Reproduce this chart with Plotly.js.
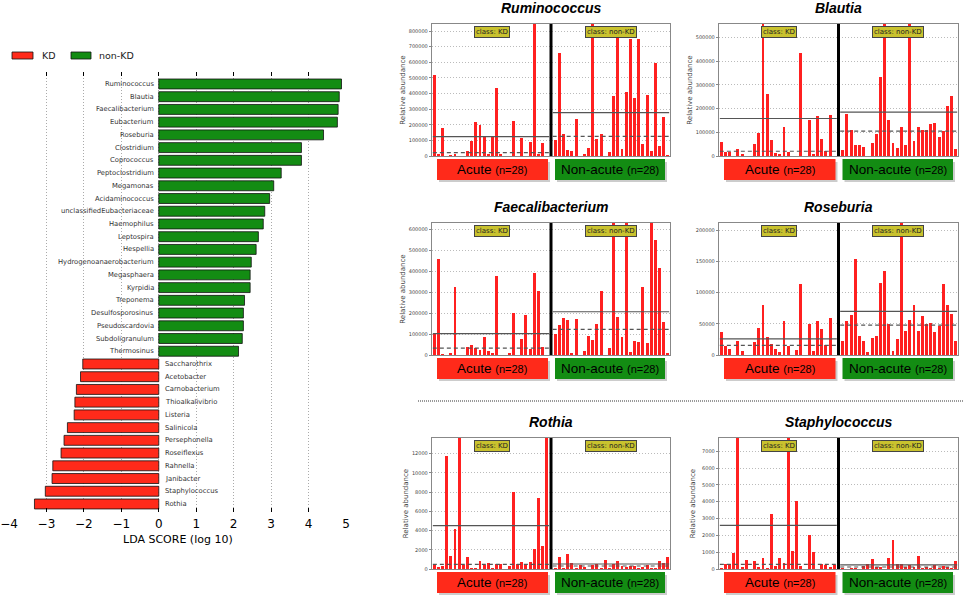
<!DOCTYPE html>
<html>
<head>
<meta charset="utf-8">
<script src="https://cdn.plot.ly/plotly-3.0.1.min.js"></script>
<style>html,body{margin:0;padding:0;background:#fff}#chart{width:964px;height:604px}</style>
</head>
<body>
<div id="chart"></div>
<script>
"use strict"

// LEfSe LDA scores, top to bottom
const ldaTaxa = ["Ruminococcus","Blautia","Faecalibacterium","Eubacterium","Roseburia","Clostridium","Coprococcus",
  "Peptoclostridium","Megamonas","Acidaminococcus","unclassifiedEubacteriaceae","Haemophilus","Leptospira","Hespellia",
  "Hydrogenoanaerobacterium","Megasphaera","Kyrpidia","Treponema","Desulfosporosinus","Pseudoscardovia","Subdoligranulum",
  "Thermosinus","Saccharothrix","Acetobacter","Carnobacterium","Thioalkalivibrio","Listeria","Salinicola","Persephonella",
  "Roseiflexus","Rahnella","Janibacter","Staphylococcus","Rothia"]
const ldaScore = [4.88,4.82,4.79,4.77,4.40,3.81,3.81,3.27,3.07,2.96,2.83,2.79,2.66,2.60,2.47,2.44,2.44,2.29,2.26,2.26,2.23,2.13,
  -2.03,-2.09,-2.20,-2.24,-2.26,-2.44,-2.53,-2.61,-2.83,-2.85,-3.03,-3.32]
const ldaTicks = [-4,-3,-2,-1,0,1,2,3,4,5]

// relative abundance per sample (28 KD / 28 non-KD)
const panelTaxa = ["Ruminococcus","Blautia","Faecalibacterium","Roseburia","Rothia","Staphylococcus"]
const ruminoKD = [520000,13000,180000,0,5000,15000,0,0,30000,97000,215000,200000,120000,15000,120000,437000,10000,0,0,225000,0,115000,0,88000,900000,10000,85000,0]
const ruminoNon = [100000,660000,143000,38000,32000,240000,0,10000,53000,900000,110000,140000,3000,23000,383000,770000,47000,408000,750000,370000,750000,75000,390000,34000,595000,64000,250000,6000]
const blautiaKD = [58000,18000,18000,0,28000,8000,0,0,50000,98000,600000,262000,66000,13000,10000,124000,15000,0,0,435000,0,152000,10000,168000,71000,20000,174000,0]
const blautiaNon = [25000,178000,110000,48000,48000,40000,0,55000,93000,333000,600000,153000,54000,32000,123000,45000,600000,65000,121000,109000,109000,136000,138000,78000,107000,210000,253000,30000]
const faecaliKD = [105000,460000,5000,0,8000,325000,0,0,40000,46000,35000,25000,88000,20000,8000,377000,0,0,8000,202000,0,75000,190000,30000,395000,305000,38000,0]
const faecaliNon = [100000,143000,175000,169000,8000,172000,0,18000,91000,73000,148000,308000,0,33000,700000,180000,85000,700000,16000,65000,62000,327000,57000,700000,553000,418000,158000,10000]
const roseKD = [37500,15000,9100,0,22000,7000,0,0,20400,44000,81000,29000,17000,10000,5000,55000,15000,0,8000,114000,0,49000,7000,54000,41000,16000,59500,0]
const roseNon = [23000,54000,64000,154000,31000,22000,5000,28000,30000,115000,135000,49000,7000,25000,230000,38000,56000,80000,39000,63000,49000,51000,37000,47000,114000,80000,66000,23000]
const rothiaKD = [400,200,350,11800,1400,4200,14000,400,1300,100,100,850,450,600,150,550,550,0,300,8050,500,750,450,700,2050,7400,2350,14000]
const rothiaNon = [150,1250,150,1550,650,100,400,200,50,450,500,80,950,100,550,850,300,200,300,300,100,250,400,150,100,850,650,1300]
const staphKD = [60,270,270,950,7800,100,520,0,480,100,680,80,3250,200,640,360,7800,1080,4020,200,0,2030,1000,20,280,220,120,250]
const staphNon = [50,30,60,80,0,150,300,580,130,120,0,680,1700,300,300,100,250,120,750,60,100,40,220,80,200,100,80,470]

const kdMean = [124000,158000,102000,26000,4520,2600]
const kdMedian = [21000,20000,33000,15500,480,280]
const nonMean = [278000,185000,207000,70000,520,240]
const nonMedian = [126000,105000,123000,48000,310,120]
const yMax = [845000,556000,632000,211800,13620,7790]
const yStep = [100000,100000,100000,50000,2000,1000]

const panelKD = [ruminoKD, blautiaKD, faecaliKD, roseKD, rothiaKD, staphKD]
const panelNon = [ruminoNon, blautiaNon, faecaliNon, roseNon, rothiaNon, staphNon]

const W = 964, H = 604
const px = v => v/W
const py = v => 1 - v/H
const RED = "#ff2a1a", GREEN = "#138c13", BARRED = "#ff2020"
const DV = "DejaVu Sans, sans-serif"
const AR = "Liberation Sans, Arial, sans-serif"
const DOTS = "1px,2px"

const data = []
const shapes = []
const annotations = []
const layout = {
  width: W, height: H,
  margin: {l:0, r:0, t:0, b:0},
  paper_bgcolor: "#fff", plot_bgcolor: "#fff",
  showlegend: false,
  bargap: 0,
  shapes: shapes,
  annotations: annotations,
}
// paper-anchored text, always centred on its point unless told otherwise
const note = (x, y, text, font, extra) => annotations.push(Object.assign({
  xref:"paper", yref:"paper", x:px(x), y:py(y), text:text, showarrow:false,
  xanchor:"center", yanchor:"middle", font:font,
}, extra || {}))

// ---- left: LDA bars ----
const pos = ldaScore.map(v=>v>0)
data.push({
  type: "bar", orientation: "h",
  y: ldaTaxa.filter((v,i)=>pos[i]), x: ldaScore.filter((v,i)=>pos[i]),
  marker: {color: GREEN, line: {color: "#111", width: 0.8}},
  width: 0.78, name: "non-KD", hoverinfo: "skip",
})
data.push({
  type: "bar", orientation: "h",
  y: ldaTaxa.filter((v,i)=>!pos[i]), x: ldaScore.filter((v,i)=>!pos[i]),
  marker: {color: RED, line: {color: "#111", width: 0.8}},
  width: 0.78, name: "KD", hoverinfo: "skip",
})
layout.xaxis = {
  domain: [px(9), px(346)], range: [-4, 5], anchor: "y",
  tickvals: ldaTicks, ticktext: ldaTicks.map(v=>v<0 ? "\u2212"+(-v) : String(v)),
  tickfont: {family: DV, size: 12, color: "#000"}, ticklabelstandoff: 3,
  ticks: "inside", ticklen: 4, tickcolor: "#000", mirror: "ticks",
  showgrid: true, gridcolor: "#aaa", griddash: DOTS, gridwidth: 1,
  zeroline: false, showline: false, fixedrange: true,
}
layout.yaxis = {
  domain: [py(512), py(72)], anchor: "x",
  type: "category", categoryorder: "array", categoryarray: ldaTaxa,
  range: [33.63, -0.94], showticklabels: false, showgrid: false,
  zeroline: false, showline: false, fixedrange: true,
}
ldaTaxa.forEach((name,i)=>{
  annotations.push({
    xref: "x", yref: "y", x: 0, y: name, text: name, showarrow: false,
    xanchor: ldaScore[i]>0 ? "right" : "left", yanchor: "middle", xshift: ldaScore[i]>0 ? -3 : 4,
    font: {family: DV, size: 6.8, color: "#333"},
  })
})
note(177.5, 539, "LDA SCORE (log 10)", {family: DV, size: 11, color: "#000"})
// legend
;[[12,33,RED,40,"KD"],[71,91,GREEN,97,"non-KD"]].forEach(([a,b,col,tx,label])=>{
  shapes.push({type:"rect", xref:"paper", yref:"paper", x0:px(a), x1:px(b), y0:py(59), y1:py(52),
    fillcolor: col, line:{color:"#111", width:0.8}})
  note(tx, 55.5, label, {family:DV, size:9.5, color:"#222"}, {xanchor:"left"})
})

// ---- right: abundance panels ----
const cols = [[432,670],[719,958]]
const rows = [[24,156],[223,355],[438,569]]
const kdIdx = ruminoKD.map((v,i)=>i)
const nonIdx = ruminoKD.map((v,i)=>i+29)

panelTaxa.forEach((taxon,i)=>{
  const n = i+2
  const [L,R] = cols[i%2]
  const [T,B] = rows[Math.floor(i/2)]
  const xa = "x"+n, ya = "y"+n
  const divPx = L + (R-L)*28.5/57

  data.push({type:"bar", x:kdIdx, y:panelKD[i], xaxis:xa, yaxis:ya, width:0.7,
    marker:{color:BARRED, line:{width:0}}, hoverinfo:"skip"})
  data.push({type:"bar", x:nonIdx, y:panelNon[i], xaxis:xa, yaxis:ya, width:0.7,
    marker:{color:BARRED, line:{width:0}}, hoverinfo:"skip"})

  layout["xaxis"+n] = {
    domain:[px(L), px(R)], range:[-0.5, 56.5], anchor:ya,
    showticklabels:false, showgrid:false, zeroline:false,
    showline:true, mirror:true, linecolor:"#888", linewidth:1.2, fixedrange:true,
  }
  layout["yaxis"+n] = {
    domain:[py(B), py(T)], range:[0, yMax[i]], anchor:xa,
    tick0:0, dtick:yStep[i], tickformat:"d",
    tickfont:{family:DV, size:5, color:"#444"},
    ticks:"outside", ticklen:2, tickcolor:"#888",
    showgrid:true, gridcolor:"#bbb", griddash:DOTS,
    zeroline:false, showline:true, mirror:true, linecolor:"#888", linewidth:1.2, fixedrange:true,
    title: i===3 ? {text:""} : {text:"Relative abundance", font:{family:DV, size:7, color:"#444"}},
  }

  // divider between classes
  shapes.push({type:"line", xref:xa, yref:ya+" domain", x0:28, x1:28, y0:0, y1:1,
    line:{color:"#000", width:3}})
  // mean (solid) and median (dashed)
  shapes.push({type:"line", xref:xa, yref:ya, x0:-0.3, x1:27.6, y0:kdMean[i], y1:kdMean[i],
    line:{color:"#555", width:1.2}})
  shapes.push({type:"line", xref:xa, yref:ya, x0:-0.3, x1:27.6, y0:kdMedian[i], y1:kdMedian[i],
    line:{color:"#555", width:1.2, dash:"4px,3px"}})
  shapes.push({type:"line", xref:xa, yref:ya, x0:28.4, x1:56.3, y0:nonMean[i], y1:nonMean[i],
    line:{color:"#555", width:1.2}})
  shapes.push({type:"line", xref:xa, yref:ya, x0:28.4, x1:56.3, y0:nonMedian[i], y1:nonMedian[i],
    line:{color:"#555", width:1.2, dash:"4px,3px"}})

  // class tags
  ;[[13.75,"class: KD"],[42.25,"class: non-KD"]].forEach(([cx,label])=>{
    annotations.push({xref:xa, yref:ya+" domain", x:cx, y:1-8/(B-T), text:label, showarrow:false,
      xanchor:"center", yanchor:"middle",
      bgcolor:"#c9c22e", bordercolor:"#444", borderwidth:1, borderpad:1,
      font:{family:DV, size:7, color:"#222"}})
  })

  // title
  note((L+R)/2, T-16, taxon, {family:AR, size:14, weight:"bold", style:"italic", color:"#000"})

  // group boxes
  const boxes = [[L+5, divPx-3, RED, "Acute"], [divPx+4, R-5, GREEN, "Non-acute"]]
  boxes.forEach(([a,b,col,label])=>{
    shapes.push({type:"rect", xref:"paper", yref:"paper", x0:px(a+2), x1:px(b+2), y0:py(B+26), y1:py(B+6),
      fillcolor:"rgba(0,0,0,0.2)", line:{width:0}})
    shapes.push({type:"rect", xref:"paper", yref:"paper", x0:px(a), x1:px(b), y0:py(B+24), y1:py(B+3),
      fillcolor:col, line:{width:0}})
    note((a+b)/2, B+13.5, label+" <span style='font-size:11px'>(n=28)</span>",
      {family:AR, size:13.5, color:"#000"})
  })
})

// dotted separator between top and bottom rows
shapes.push({type:"line", xref:"paper", yref:"paper", x0:px(418), x1:px(964), y0:py(401), y1:py(401),
  line:{color:"#999", width:2, dash:"1px,1px"}})

Plotly.newPlot("chart", data, layout, {displayModeBar:false, staticPlot:true})
</script>
</body>
</html>
